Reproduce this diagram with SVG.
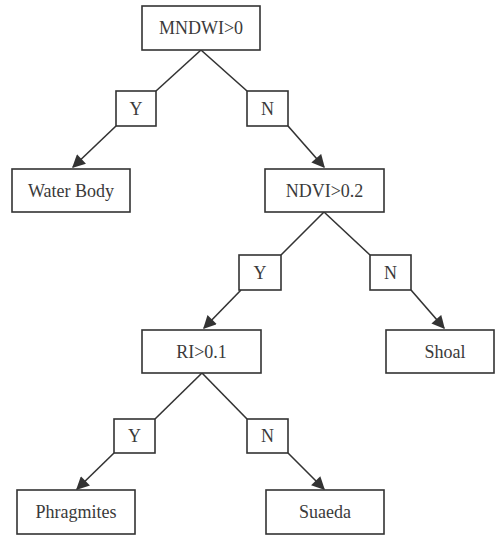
<svg xmlns="http://www.w3.org/2000/svg" width="496" height="535" viewBox="0 0 496 535">
<style>
.box{fill:#fff;stroke:#333;stroke-width:1.6}
.t{font-family:"Liberation Serif","Times New Roman",serif;font-size:18px;fill:#3a3a3a;text-anchor:middle;dominant-baseline:central}
.c{stroke:#333;stroke-width:1.6;fill:none}
.a{stroke:#333;stroke-width:1.6;fill:none;marker-end:url(#ah)}
</style>
<defs>
<marker id="ah" viewBox="0 0 10 10" refX="9" refY="5" markerWidth="14" markerHeight="13" markerUnits="userSpaceOnUse" orient="auto">
<path d="M0,0 L10,5 L0,10 z" fill="#333"/>
</marker>
</defs>
<rect width="496" height="535" fill="#fff"/>
<g id="connectors">
<line class="c" x1="201" y1="50" x2="156" y2="91"/>
<line class="c" x1="201" y1="50" x2="247" y2="91"/>
<line class="a" x1="116" y1="126" x2="73" y2="167"/>
<line class="a" x1="288" y1="126" x2="324" y2="167"/>
<line class="c" x1="324" y1="212" x2="281" y2="255"/>
<line class="c" x1="324" y1="212" x2="370" y2="255"/>
<line class="a" x1="241" y1="290" x2="204" y2="328"/>
<line class="a" x1="411" y1="290" x2="444" y2="328"/>
<line class="c" x1="202" y1="373" x2="155" y2="419"/>
<line class="c" x1="202" y1="373" x2="247" y2="419"/>
<line class="a" x1="114" y1="453" x2="77" y2="489"/>
<line class="a" x1="288" y1="453" x2="324" y2="489"/>
</g>
<g id="n_mndwi"><rect class="box" x="142" y="6" width="118" height="44"/><text class="t" x="201" y="28">MNDWI&gt;0</text></g>
<g id="n_y1"><rect class="box" x="116" y="91" width="40" height="35"/><text class="t" x="136" y="108.5">Y</text></g>
<g id="n_n1"><rect class="box" x="247" y="91" width="41" height="35"/><text class="t" x="267.5" y="108.5">N</text></g>
<g id="n_water"><rect class="box" x="12" y="169" width="118" height="43"/><text class="t" x="71" y="190.5">Water Body</text></g>
<g id="n_ndvi"><rect class="box" x="265" y="169" width="119" height="43"/><text class="t" x="324.5" y="190.5">NDVI&gt;0.2</text></g>
<g id="n_y2"><rect class="box" x="239" y="255" width="42" height="35"/><text class="t" x="260" y="272.5">Y</text></g>
<g id="n_n2"><rect class="box" x="370" y="255" width="41" height="35"/><text class="t" x="390.5" y="272.5">N</text></g>
<g id="n_ri"><rect class="box" x="142" y="330" width="119" height="43"/><text class="t" x="201.5" y="351.5">RI&gt;0.1</text></g>
<g id="n_shoal"><rect class="box" x="386" y="330" width="108" height="43"/><text class="t" x="445" y="351.5">Shoal</text></g>
<g id="n_y3"><rect class="box" x="114" y="419" width="41" height="34"/><text class="t" x="134.5" y="436">Y</text></g>
<g id="n_n3"><rect class="box" x="247" y="419" width="41" height="34"/><text class="t" x="267.5" y="436">N</text></g>
<g id="n_phrag"><rect class="box" x="17" y="490" width="118" height="44"/><text class="t" x="76" y="512">Phragmites</text></g>
<g id="n_suaeda"><rect class="box" x="266" y="490" width="118" height="44"/><text class="t" x="325" y="512">Suaeda</text></g>
</svg>
